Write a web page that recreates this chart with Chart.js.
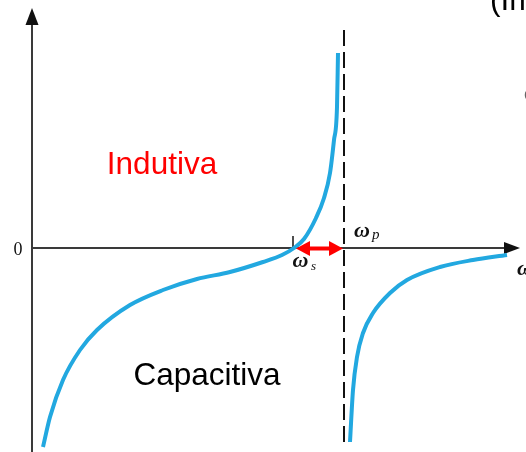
<!DOCTYPE html>
<html>
<head>
<meta charset="utf-8">
<script src="https://cdn.jsdelivr.net/npm/chart.js@4/dist/chart.umd.min.js"></script>
<style>
  html, body { margin: 0; padding: 0; background: #ffffff; }
  canvas { display: block; }
</style>
</head>
<body>
<canvas id="reactance" width="526" height="452"></canvas>
<script>
// Crystal reactance X(ω): series branch below ωp, parallel branch above ωp
const omegaS = 2.61;   // series resonance
const omegaP = 3.12;   // parallel resonance

// Branch below ωp (capacitive → inductive)
const lowOmega = [0.11, 0.18, 0.31, 0.48, 0.65, 0.98, 1.31, 1.65, 1.98, 2.31, 2.50, 2.62, 2.72, 2.84, 2.92, 2.98, 3.02, 3.05, 3.06];
const lowX     = [-1.99, -1.69, -1.32, -1.02, -0.82, -0.57, -0.42, -0.31, -0.24, -0.14, -0.07, 0.00, 0.09, 0.30, 0.50, 0.75, 1.08, 1.41, 1.95];

// Branch above ωp (capacitive, approaching zero)
const highOmega = [3.18, 3.21, 3.25, 3.31, 3.41, 3.58, 3.75, 4.08, 4.41, 4.75];
const highX     = [-1.94, -1.42, -1.09, -0.85, -0.65, -0.45, -0.32, -0.19, -0.12, -0.07];

// Asymptote at ωp
const asymptoteX = [2.18, -1.97];

// Axis extents
const axisTopY = 2.40;
const axisEndOmega = 4.88;
const axisBottomY = -2.04;

const toPoints = (xs, ys) => xs.map((x, i) => ({ x: x, y: ys[i] }));

const CURVE = '#22a8e0';
const AXIS = '#3a3a3a';
const SERIF = '"Liberation Serif", "DejaVu Serif", serif';
const SANS = '"Liberation Sans", Arial, sans-serif';

const decorations = {
  id: 'decorations',
  beforeDatasetsDraw(chart) {
    const { ctx, scales: { x, y } } = chart;
    const px = v => x.getPixelForValue(v);
    const py = v => y.getPixelForValue(v);
    ctx.save();
    ctx.strokeStyle = AXIS;
    ctx.fillStyle = '#111';
    ctx.lineWidth = 2;
    // vertical axis
    ctx.beginPath();
    ctx.moveTo(px(0), py(axisBottomY));
    ctx.lineTo(px(0), py(axisTopY) + 12);
    ctx.stroke();
    ctx.beginPath();
    ctx.moveTo(px(0), py(axisTopY));
    ctx.lineTo(px(0) - 6.5, py(axisTopY) + 17);
    ctx.lineTo(px(0) + 6.5, py(axisTopY) + 17);
    ctx.closePath();
    ctx.fill();
    // horizontal axis
    ctx.lineWidth = 1.8;
    ctx.beginPath();
    ctx.moveTo(px(0), py(0));
    ctx.lineTo(px(axisEndOmega) - 10, py(0));
    ctx.stroke();
    ctx.beginPath();
    ctx.moveTo(px(axisEndOmega), py(0));
    ctx.lineTo(px(axisEndOmega) - 16, py(0) - 6);
    ctx.lineTo(px(axisEndOmega) - 16, py(0) + 6);
    ctx.closePath();
    ctx.fill();
    // tick at ωs
    ctx.lineWidth = 1.6;
    ctx.strokeStyle = '#222';
    ctx.beginPath();
    ctx.moveTo(px(omegaS), py(0));
    ctx.lineTo(px(omegaS), py(0) - 12);
    ctx.stroke();
    ctx.restore();
  },
  afterDatasetsDraw(chart) {
    const { ctx, scales: { x, y } } = chart;
    const px = v => x.getPixelForValue(v);
    const py = v => y.getPixelForValue(v);
    ctx.save();
    // red double arrow between ωs and ωp
    const a = px(omegaS) + 3, b = px(omegaP) - 1, yy = py(0) + 0.5;
    ctx.strokeStyle = '#ff0000';
    ctx.fillStyle = '#ff0000';
    ctx.lineWidth = 4;
    ctx.beginPath();
    ctx.moveTo(a + 10, yy);
    ctx.lineTo(b - 10, yy);
    ctx.stroke();
    ctx.beginPath();
    ctx.moveTo(a, yy);
    ctx.lineTo(a + 14, yy - 7.5);
    ctx.lineTo(a + 14, yy + 7.5);
    ctx.closePath();
    ctx.fill();
    ctx.beginPath();
    ctx.moveTo(b, yy);
    ctx.lineTo(b - 14, yy - 7.5);
    ctx.lineTo(b - 14, yy + 7.5);
    ctx.closePath();
    ctx.fill();

    // text
    ctx.textBaseline = 'alphabetic';
    ctx.fillStyle = '#111';
    ctx.font = '18px ' + SERIF;
    ctx.textAlign = 'center';
    ctx.fillText('0', px(0) - 14, py(0) + 7);

    ctx.textAlign = 'left';
    ctx.font = 'italic bold 22px ' + SERIF;
    ctx.fillText('ω', px(omegaS) - 0.5, py(0) + 19);
    ctx.font = 'italic 13px ' + SERIF;
    ctx.fillText('s', px(omegaS) + 18, py(0) + 22);
    ctx.font = 'italic bold 22px ' + SERIF;
    ctx.fillText('ω', px(omegaP) + 10, py(0) - 11);
    ctx.font = 'italic 15px ' + SERIF;
    ctx.fillText('p', px(omegaP) + 28, py(0) - 9);
    ctx.font = 'italic bold 22px ' + SERIF;
    ctx.fillText('ω', px(axisEndOmega) - 3, py(0) + 27);

    ctx.font = '31.5px ' + SANS;
    ctx.textAlign = 'center';
    ctx.fillStyle = '#ff0000';
    ctx.fillText('Indutiva', px(1.30), py(0.74));
    ctx.fillStyle = '#000';
    ctx.fillText('Capacitiva', px(1.75), py(-1.37));
    ctx.textAlign = 'left';
    ctx.fillText('(Im', px(4.58), py(2.38));
    ctx.fillStyle = '#666';
    ctx.font = '18px ' + SANS;
    ctx.fillText('c', px(4.92), py(1.48));
    ctx.restore();
  }
};

new Chart(document.getElementById('reactance'), {
  type: 'scatter',
  data: {
    datasets: [
      {
        data: toPoints(lowOmega, lowX),
        showLine: true,
        borderColor: CURVE,
        borderWidth: 4,
        pointRadius: 0,
        cubicInterpolationMode: 'monotone'
      },
      {
        data: toPoints(highOmega, highX),
        showLine: true,
        borderColor: CURVE,
        borderWidth: 4,
        pointRadius: 0,
        cubicInterpolationMode: 'monotone'
      },
      {
        data: [{ x: omegaP, y: asymptoteX[0] }, { x: omegaP, y: asymptoteX[1] }],
        showLine: true,
        borderColor: '#111',
        borderWidth: 2,
        borderDash: [16, 6],
        pointRadius: 0
      }
    ]
  },
  options: {
    responsive: false,
    animation: false,
    devicePixelRatio: 1,
    layout: { padding: 0 },
    plugins: { legend: { display: false }, tooltip: { enabled: false } },
    scales: {
      x: { type: 'linear', min: -0.32, max: 4.94, display: false },
      y: { type: 'linear', min: -2.04, max: 2.48, display: false }
    }
  },
  plugins: [decorations]
});
</script>
</body>
</html>
